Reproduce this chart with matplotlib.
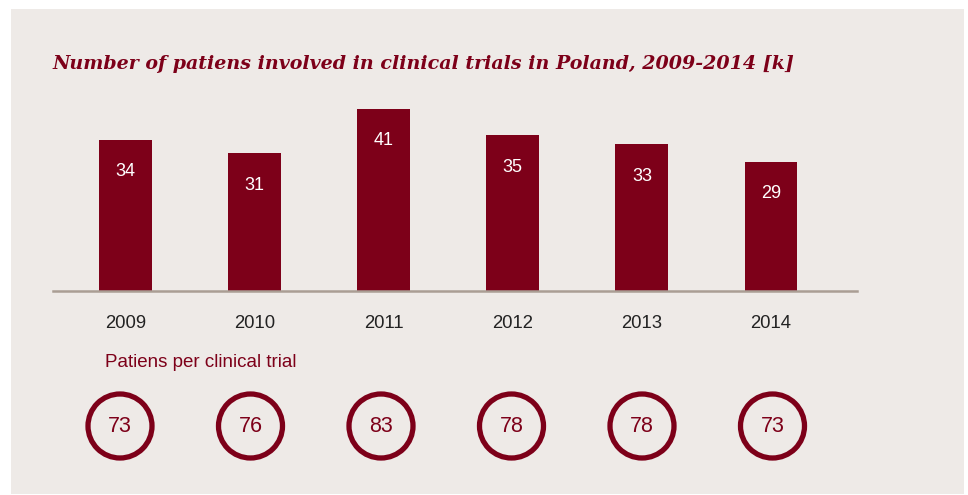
import matplotlib
matplotlib.use("Agg")
import matplotlib.pyplot as plt
from matplotlib.patches import Rectangle

years = ["2009", "2010", "2011", "2012", "2013", "2014"]
patients_k = [34, 31, 41, 35, 33, 29]
patients_per_trial = [73, 76, 83, 78, 78, 73]
title = "Number of patiens involved in clinical trials in Poland, 2009-2014 [k]"
subtitle = "Patiens per clinical trial"

RED = "#7d0019"
BG = "#eeeae7"
W, H = 968, 495

fig = plt.figure(figsize=(W / 100, H / 100), dpi=100)
fig.patch.set_facecolor("white")

def fx(px):
    return px / W

def fy(py):
    return (H - py) / H

# panel background
fig.patches.append(Rectangle((fx(11), fy(494)), fx(964) - fx(11), fy(9) - fy(494),
                             transform=fig.transFigure, facecolor=BG, edgecolor="none", zorder=-5))

# bar axes
ax = fig.add_axes([fx(53), fy(291), fx(857) - fx(53), fy(100) - fy(291)])
ax.set_zorder(2)
ax.set_facecolor("none")
x = list(range(len(years)))
ax.bar(x, patients_k, width=0.41, color=RED, zorder=2)
ax.set_xlim(-0.5616, 5.666)
ax.set_ylim(0, 191 / 4.45)
ax.axhline(0, color="#aa9e94", lw=1.8, zorder=3, clip_on=False)
for s in ax.spines.values():
    s.set_visible(False)
ax.set_xticks([])
ax.set_yticks([])
for i, (yr, v) in enumerate(zip(years, patients_k)):
    ax.annotate(str(v), xy=(i, v), xytext=(0, -32), textcoords="offset pixels",
                ha="center", va="center", color="white", fontsize=13,
                family="Liberation Sans", zorder=4)
    ax.annotate(yr, xy=(i, 0), xytext=(0, -32), textcoords="offset pixels",
                ha="center", va="center", color="#222222", fontsize=13.3,
                family="Liberation Sans", annotation_clip=False)

# circles axes
ax2 = fig.add_axes([fx(53), fy(462), fx(857) - fx(53), fy(390) - fy(462)])
ax2.set_zorder(2)
ax2.set_facecolor("none")
ax2.set_xlim(-0.5134, 5.6475)
ax2.set_ylim(-1, 1)
ax2.axis("off")
ax2.scatter(x, [0] * len(x), s=(64 * 0.72) ** 2, facecolors="none",
            edgecolors=RED, linewidths=3.8, clip_on=False)
for i, v in enumerate(patients_per_trial):
    ax2.text(i, 0, str(v), ha="center", va="center", color=RED, fontsize=15.5,
             family="Liberation Sans")

fig.text(fx(105), fy(367), subtitle, ha="left", va="baseline", color=RED,
         fontsize=13.5, family="Liberation Sans")
fig.text(fx(53), fy(69), title, ha="left", va="baseline", color=RED,
         fontsize=13.7, family="DejaVu Serif", fontweight="bold", fontstyle="italic")

fig.savefig("out.png", dpi=100, facecolor=fig.get_facecolor())
